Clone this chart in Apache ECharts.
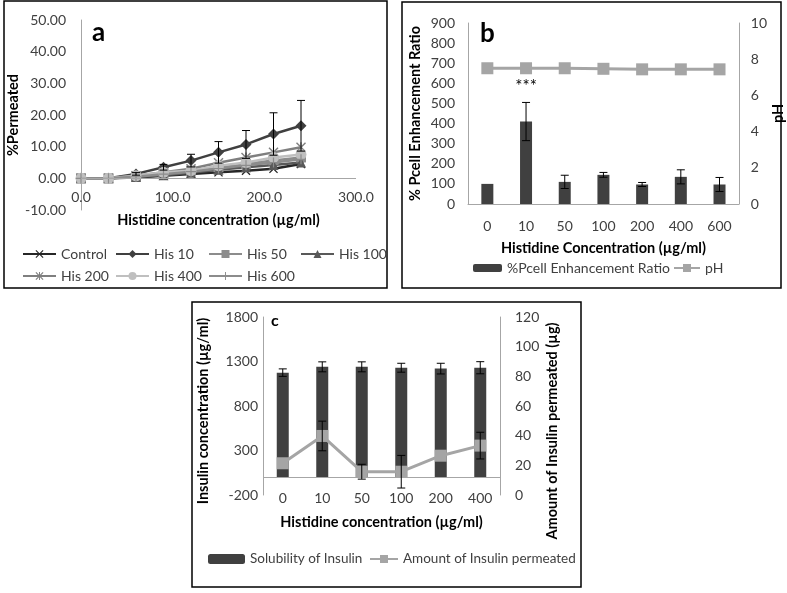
<!DOCTYPE html>
<html><head><meta charset="utf-8">
<script src="https://cdn.jsdelivr.net/npm/echarts@6/dist/echarts.min.js"></script>
<style>html,body{margin:0;padding:0;background:#fff}#c{width:787px;height:593px}</style>
</head><body><div id="c"></div><script>
// ---- Panel a data ----
const timePoints = [0, 30, 60, 90, 120, 150, 180, 210, 240];
const control = [0, 0, 0.3, 0.8, 1.4, 1.9, 2.4, 3.0, 4.5];
const his10 = [0, 0, 1.4, 3.5, 5.6, 8.2, 10.7, 14.0, 16.6];
const his10Err = [0, 0, 0.4, 0.9, 2.0, 3.4, 4.4, 6.7, 8.0];
const his50 = [0, 0, 0.6, 1.5, 2.4, 3.5, 4.6, 5.6, 6.6];
const his100 = [0, 0, 0.4, 1.0, 1.8, 2.7, 3.5, 4.2, 5.0];
const his200 = [0, 0, 0.8, 1.9, 3.0, 4.9, 6.6, 8.2, 9.8];
const his400 = [0, 0, 0.8, 1.9, 2.4, 4.0, 5.0, 6.6, 7.5];
const his600 = [0, 0, 0.5, 1.3, 2.1, 3.1, 4.1, 5.0, 6.0];
// ---- Panel b data ----
const bCats = ['0', '10', '50', '100', '200', '400', '600'];
const pcell = [100, 410, 110, 145, 97, 135, 97];
const pcellErr = [0, 95, 33, 12, 10, 35, 35];
const pH = [7.5, 7.5, 7.5, 7.47, 7.44, 7.44, 7.44];
// ---- Panel c data ----
const cCats = ['0', '10', '50', '100', '200', '400'];
const solubility = [1175, 1240, 1240, 1230, 1220, 1230];
const solErr = [42, 56, 56, 50, 60, 68];
const permeated = [21.4, 39.8, 15.7, 15.7, 26.5, 33.3];
const permErr = [0, 10, 5, 11, 0, 9];

const FONT = 'Lato';
const TXT = '#404040';
const AX = '#a6a6a6';
const chart = echarts.init(document.getElementById('c'), null, {renderer: 'canvas'});

const SYM_X = 'path://M0,1L1,0L5,4L9,0L10,1L6,5L10,9L9,10L5,6L1,10L0,9L4,5Z';
const SYM_PLUS = 'path://M4.4,0H5.6V4.4H10V5.6H5.6V10H4.4V5.6H0V4.4H4.4Z';
const SYM_AST = 'path://M0,1L1,0L5,4L9,0L10,1L6,5L10,9L9,10L5,6L1,10L0,9L4,5Z M4.4,0H5.6V10H4.4Z';

function errSeries(xi, yi, data, capW) {
  return {
    type: 'custom', xAxisIndex: xi, yAxisIndex: yi, z: 10, silent: true, data: data,
    encode: {x: 0, y: 1},
    renderItem: function (params, api) {
      const x = api.value(0), v = api.value(1), e = api.value(2);
      if (!e) return null;
      const hi = api.coord([x, v + e]), lo = api.coord([x, v - e]);
      const s = {stroke: '#000', lineWidth: 1};
      return {type: 'group', children: [
        {type: 'line', shape: {x1: hi[0], y1: hi[1], x2: lo[0], y2: lo[1]}, style: s},
        {type: 'line', shape: {x1: hi[0] - capW, y1: hi[1], x2: hi[0] + capW, y2: hi[1]}, style: s},
        {type: 'line', shape: {x1: lo[0] - capW, y1: lo[1], x2: lo[0] + capW, y2: lo[1]}, style: s}
      ]};
    }
  };
}

function lineA(name, vals, color, symbol, size, extra) {
  return Object.assign({
    name: name, type: 'line', xAxisIndex: 0, yAxisIndex: 0,
    data: timePoints.map((t, i) => [t, vals[i]]),
    symbol: symbol, symbolSize: size, color: color,
    lineStyle: {width: 2.5, color: color}, itemStyle: {color: color}
  }, extra || {});
}

const lblStyle = {fontFamily: FONT, fontSize: 14, color: TXT};
const nameStyle = {fontFamily: FONT, fontSize: 14.5, fontWeight: 'bold', color: '#000'};
const legTxt = {fontFamily: FONT, fontSize: 14, color: TXT};
const legTxtC = {fontFamily: FONT, fontSize: 13.5, color: TXT};
const plain = v => String(v);
const zeroLine = {silent: true, symbol: 'none', label: {show: false}, lineStyle: {color: AX, width: 1, type: 'solid'}, data: [{yAxis: 0}]};

const option = {
  animation: false,
  backgroundColor: '#fff',
  grid: [
    {left: 81, top: 20, width: 275, height: 190},
    {left: 468, top: 23, width: 272, height: 181},
    {left: 263, top: 317, width: 237, height: 178}
  ],
  xAxis: [
    {gridIndex: 0, type: 'value', min: 0, max: 300, interval: 100, position: 'bottom',
      axisLine: {show: false, onZero: false}, axisTick: {show: false},
      splitLine: {show: false},
      axisLabel: Object.assign({margin: -20, formatter: v => v.toFixed(1)}, lblStyle),
      name: 'Histidine concentration (µg/ml)', nameLocation: 'middle', nameGap: 3, nameTextStyle: nameStyle},
    {gridIndex: 1, type: 'category', data: bCats,
      axisLine: {show: true, lineStyle: {color: AX}}, axisTick: {show: false},
      axisLabel: Object.assign({margin: 15}, lblStyle),
      name: 'Histidine Concentration (µg/ml)', nameLocation: 'middle', nameGap: 37, nameTextStyle: nameStyle},
    {gridIndex: 2, type: 'category', data: cCats,
      axisLine: {show: false, onZero: false}, axisTick: {show: false},
      axisLabel: Object.assign({margin: -4}, lblStyle),
      name: 'Histidine concentration (µg/ml)', nameLocation: 'middle', nameGap: 20, nameTextStyle: nameStyle}
  ],
  yAxis: [
    {gridIndex: 0, type: 'value', min: -10, max: 50, interval: 10,
      axisLine: {show: true, onZero: false, lineStyle: {color: AX}}, axisTick: {show: false}, splitLine: {show: false},
      axisLabel: Object.assign({margin: 15, formatter: v => v.toFixed(2)}, lblStyle),
      name: '%Permeated', nameLocation: 'middle', nameGap: 56, nameRotate: 90, nameTextStyle: nameStyle},
    {gridIndex: 1, type: 'value', min: 0, max: 900, interval: 100,
      axisLine: {show: true, lineStyle: {color: AX}}, axisTick: {show: false}, splitLine: {show: false},
      axisLabel: Object.assign({margin: 13, formatter: plain}, lblStyle),
      name: '% Pcell Enhancement Ratio', nameLocation: 'middle', nameGap: 45, nameRotate: 90, nameTextStyle: nameStyle},
    {gridIndex: 1, type: 'value', position: 'right', min: 0, max: 10, interval: 2,
      axisLine: {show: true, lineStyle: {color: AX}}, axisTick: {show: false}, splitLine: {show: false},
      axisLabel: Object.assign({margin: 12, formatter: plain}, lblStyle),
      name: 'pH', nameLocation: 'middle', nameGap: 29, nameRotate: 90, nameTextStyle: nameStyle},
    {gridIndex: 2, type: 'value', min: -200, max: 1800, interval: 500,
      axisLine: {show: true, lineStyle: {color: AX}}, axisTick: {show: false}, splitLine: {show: false},
      axisLabel: Object.assign({margin: 5, formatter: plain}, lblStyle),
      name: 'Insulin concentration (µg/ml)', nameLocation: 'middle', nameGap: 52, nameRotate: 90,
      nameTextStyle: Object.assign({padding: [0, 10, 0, 0]}, nameStyle)},
    {gridIndex: 2, type: 'value', position: 'right', min: 0, max: 120, interval: 20,
      axisLine: {show: true, lineStyle: {color: AX}}, axisTick: {show: false}, splitLine: {show: false},
      axisLabel: Object.assign({margin: 15, formatter: plain}, lblStyle),
      name: 'Amount of Insulin permeated (µg)', nameLocation: 'middle', nameGap: 45, nameRotate: 90,
      nameTextStyle: Object.assign({padding: [0, 50, 0, 0]}, nameStyle)}
  ],
  legend: [
    {orient: 'vertical', left: 17, top: 242, itemGap: 8, itemWidth: 33, itemHeight: 10, textStyle: legTxt, data: ['Control', 'His 200'], selectedMode: false},
    {orient: 'vertical', left: 110, top: 242, itemGap: 8, itemWidth: 33, itemHeight: 10, textStyle: legTxt, data: ['His 10', 'His 400'], selectedMode: false},
    {orient: 'vertical', left: 203, top: 242, itemGap: 8, itemWidth: 33, itemHeight: 10, textStyle: legTxt, data: ['His 50', 'His 600'], selectedMode: false},
    {orient: 'vertical', left: 295, top: 242, itemGap: 8, itemWidth: 33, itemHeight: 10, textStyle: legTxt, data: ['His 100'], selectedMode: false},
    {left: 468, top: 256, itemWidth: 29, itemHeight: 8, itemGap: 2, textStyle: legTxt, data: ['%Pcell Enhancement Ratio'], selectedMode: false},
    {left: 668, top: 256, itemWidth: 26, itemHeight: 10, textStyle: legTxt, data: ['pH'], selectedMode: false},
    {left: 203, top: 547, itemWidth: 37, itemHeight: 10, itemGap: 2, textStyle: legTxtC, data: ['Solubility of Insulin'], selectedMode: false},
    {left: 364, top: 547, itemWidth: 28, itemHeight: 10, textStyle: legTxtC, data: ['Amount of Insulin permeated'], selectedMode: false}
  ],
  series: [
    lineA('Control', control, '#262626', SYM_X, 9, {markLine: zeroLine}),
    lineA('His 10', his10, '#404040', 'diamond', 11),
    lineA('His 50', his50, '#8c8c8c', 'rect', 10),
    lineA('His 100', his100, '#595959', 'triangle', 10),
    lineA('His 200', his200, '#7f7f7f', SYM_AST, 10),
    lineA('His 400', his400, '#bfbfbf', 'circle', 11),
    lineA('His 600', his600, '#8c8c8c', SYM_PLUS, 10),
    errSeries(0, 0, timePoints.map((t, i) => [t, his10[i], his10Err[i]]), 4),
    {name: '%Pcell Enhancement Ratio', type: 'bar', xAxisIndex: 1, yAxisIndex: 1, data: pcell,
      barWidth: 12, itemStyle: {color: '#404040'},
      label: {show: true, position: 'top', distance: 27, fontFamily: FONT, fontSize: 17, color: '#000',
        formatter: p => p.dataIndex === 1 ? '***' : ''}},
    errSeries(1, 1, pcell.map((v, i) => [i, v, pcellErr[i]]), 4),
    {name: 'pH', type: 'line', xAxisIndex: 1, yAxisIndex: 2, data: pH, symbol: 'rect', symbolSize: 12,
      color: '#a5a5a5', lineStyle: {width: 3, color: '#a5a5a5'}, itemStyle: {color: '#a5a5a5'}, z: 5},
    {name: 'Solubility of Insulin', type: 'bar', xAxisIndex: 2, yAxisIndex: 3, data: solubility,
      barWidth: 12, itemStyle: {color: '#404040'}, markLine: zeroLine},
    errSeries(2, 3, solubility.map((v, i) => [i, v, solErr[i]]), 4),
    {name: 'Amount of Insulin permeated', type: 'line', xAxisIndex: 2, yAxisIndex: 4, data: permeated, symbol: 'rect', symbolSize: 12,
      color: '#a5a5a5', lineStyle: {width: 3, color: '#a5a5a5'}, itemStyle: {color: '#a5a5a5'}, z: 5},
    errSeries(2, 4, permeated.map((v, i) => [i, v, permErr[i]]), 4)
  ],
  graphic: [
    {type: 'rect', shape: {x: 4, y: 1, width: 383, height: 287}, style: {fill: null, stroke: '#000', lineWidth: 1.5}, silent: true},
    {type: 'rect', shape: {x: 402, y: 2, width: 379, height: 286}, style: {fill: null, stroke: '#000', lineWidth: 1.5}, silent: true},
    {type: 'rect', shape: {x: 192, y: 302, width: 389, height: 285}, style: {fill: null, stroke: '#000', lineWidth: 1.5}, silent: true},
    {type: 'text', left: 92, top: 20, style: {text: 'a', font: 'bold 26px Lato', fill: '#000'}},
    {type: 'text', left: 480, top: 21, style: {text: 'b', font: 'bold 26px Lato', fill: '#000'}},
    {type: 'text', left: 271, top: 313, style: {text: 'c', font: 'bold 16px Lato', fill: '#000'}}
  ]
};
chart.setOption(option);
</script></body></html>
